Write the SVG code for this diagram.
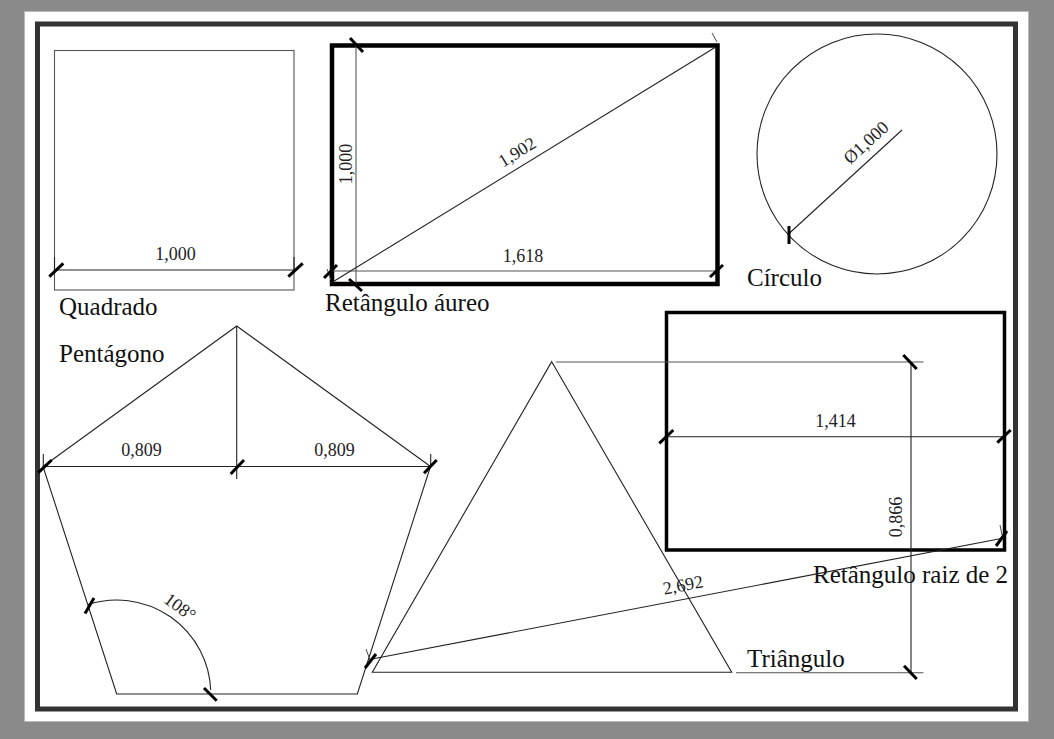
<svg xmlns="http://www.w3.org/2000/svg" width="1054" height="739" viewBox="0 0 1054 739">
  <style>
    .lbl { font-family: "Liberation Serif", "DejaVu Serif", serif; font-size: 25px; fill: #111; }
    .num { font-family: "Liberation Serif", "DejaVu Serif", serif; font-size: 18px; fill: #222; text-anchor: middle; }
    .thin { stroke: #222; stroke-width: 1.1; fill: none; }
    .gray { stroke: #555; stroke-width: 1.1; fill: none; }
    .tick { stroke: #000; stroke-width: 3; fill: none; }
    .hair { stroke: #333; stroke-width: 0.9; fill: none; }
  </style>
  <rect x="0" y="0" width="1054" height="739" fill="#8a8a8a"/>
  <rect x="24.5" y="11.5" width="1004" height="710" fill="#ffffff" stroke="#b8b8b8" stroke-width="1"/>
  <rect x="37.5" y="24" width="978" height="685" fill="none" stroke="#333333" stroke-width="5"/>

  <g id="quadrado">
    <rect class="gray" x="54.5" y="50.5" width="239.5" height="239.5"/>
    <line class="thin" x1="54.5" y1="270" x2="294" y2="270"/>
    <line class="thin" x1="54.5" y1="257" x2="54.5" y2="270"/>
    <line class="thin" x1="294" y1="257" x2="294" y2="270"/>
    <line class="tick" x1="49.3" y1="276.7" x2="63.3" y2="263.3"/>
    <line class="tick" x1="288.3" y1="276.7" x2="302.7" y2="263.3"/>
    <text class="num" x="175.5" y="260">1,000</text>
    <text class="lbl" x="59" y="315">Quadrado</text>
  </g>

  <g id="retangulo-aureo">
    <rect x="332" y="45.5" width="385.5" height="238.5" fill="none" stroke="#000" stroke-width="4.5"/>
    <line class="gray" x1="356" y1="45.5" x2="356" y2="284"/>
    <line class="gray" x1="332" y1="271" x2="717.5" y2="271"/>
    <line class="thin" x1="331" y1="283" x2="715" y2="47.5"/>
    <line class="hair" x1="712" y1="33" x2="717" y2="42"/>
    <line class="hair" x1="327" y1="269" x2="331" y2="280"/>
    <line class="tick" x1="324" y1="278" x2="337" y2="265"/>
    <line class="tick" x1="710" y1="277" x2="723" y2="265"/>
    <line class="tick" x1="350" y1="38" x2="363" y2="52"/>
    <line class="tick" x1="349" y1="279" x2="362" y2="291"/>
    <text class="num" x="523" y="261.5">1,618</text>
    <text class="num" transform="translate(352,164) rotate(-90)" x="0" y="0">1,000</text>
    <text class="num" transform="translate(517,152) rotate(-31.6)" x="0" y="6">1,902</text>
    <text class="lbl" x="325" y="311">Retângulo áureo</text>
  </g>

  <g id="circulo">
    <circle class="thin" cx="877" cy="154" r="120"/>
    <line class="thin" x1="789" y1="233.5" x2="902" y2="130"/>
    <line class="tick" x1="789" y1="226" x2="789" y2="244"/>
    <text class="num" transform="translate(866,142.5) rotate(-42.3)" x="0" y="6">Ø1,000</text>
    <text class="lbl" x="747" y="286">Círculo</text>
  </g>

  <g id="pentagono">
    <polygon class="thin" points="236.7,326 430.5,466.5 357.3,694 116.7,694 43,466.5"/>
    <line class="thin" x1="236.7" y1="326" x2="236.7" y2="479"/>
    <line class="thin" x1="43" y1="466.5" x2="430.5" y2="466.5"/>
    <line class="thin" x1="43.3" y1="454" x2="43.3" y2="466.5"/>
    <line class="thin" x1="430.7" y1="454" x2="430.7" y2="466.5"/>
    <line class="tick" x1="38.3" y1="472.7" x2="51.7" y2="460"/>
    <line class="tick" x1="230.7" y1="474" x2="244" y2="460"/>
    <line class="tick" x1="424" y1="473.3" x2="436.7" y2="460"/>
    <path class="thin" d="M87.8,604.6 A94,94 0 0 1 210.7,690"/>
    <line class="tick" x1="85" y1="613.5" x2="94" y2="598"/>
    <line class="tick" x1="204" y1="688" x2="216.7" y2="700.7"/>
    <text class="num" x="141.5" y="456">0,809</text>
    <text class="num" x="334.5" y="456">0,809</text>
    <text class="num" transform="translate(180,607) rotate(36)" x="0" y="6">108°</text>
    <text class="lbl" x="59" y="362">Pentágono</text>
  </g>

  <g id="triangulo">
    <polygon class="thin" points="551.7,361.7 731.7,672.3 372.3,672.3"/>
    <text class="lbl" x="747" y="667">Triângulo</text>
  </g>

  <g id="retangulo-raiz-2">
    <rect x="666.5" y="312.5" width="338" height="237.5" fill="none" stroke="#000" stroke-width="3.5"/>
    <line class="thin" x1="666.5" y1="436.7" x2="1004.5" y2="436.7"/>
    <line class="tick" x1="659.3" y1="443.3" x2="673.3" y2="430"/>
    <line class="tick" x1="997.3" y1="442.7" x2="1010.7" y2="430"/>
    <text class="num" x="835.5" y="426.5">1,414</text>
    <text class="lbl" x="813" y="583">Retângulo raiz de 2</text>
  </g>

  <g id="connectors">
    <line class="gray" x1="556" y1="362" x2="923.5" y2="362"/>
    <line class="gray" x1="736" y1="672.7" x2="923.5" y2="672.7"/>
    <line class="thin" x1="911" y1="362" x2="911" y2="672.7"/>
    <line class="tick" x1="903.3" y1="355" x2="916.7" y2="369"/>
    <line class="tick" x1="904" y1="665.7" x2="916.7" y2="679"/>
    <text class="num" transform="translate(902,517) rotate(-90)" x="0" y="0">0,866</text>
    <line class="thin" x1="372" y1="659" x2="1004" y2="538"/>
    <line class="hair" x1="1000" y1="525" x2="1002" y2="535"/>
    <line class="hair" x1="366" y1="649" x2="370" y2="660"/>
    <line class="tick" x1="365" y1="668" x2="376" y2="654"/>
    <line class="tick" x1="996" y1="546" x2="1007" y2="531"/>
    <text class="num" transform="translate(683,585) rotate(-10.7)" x="0" y="6">2,692</text>
  </g>
</svg>
